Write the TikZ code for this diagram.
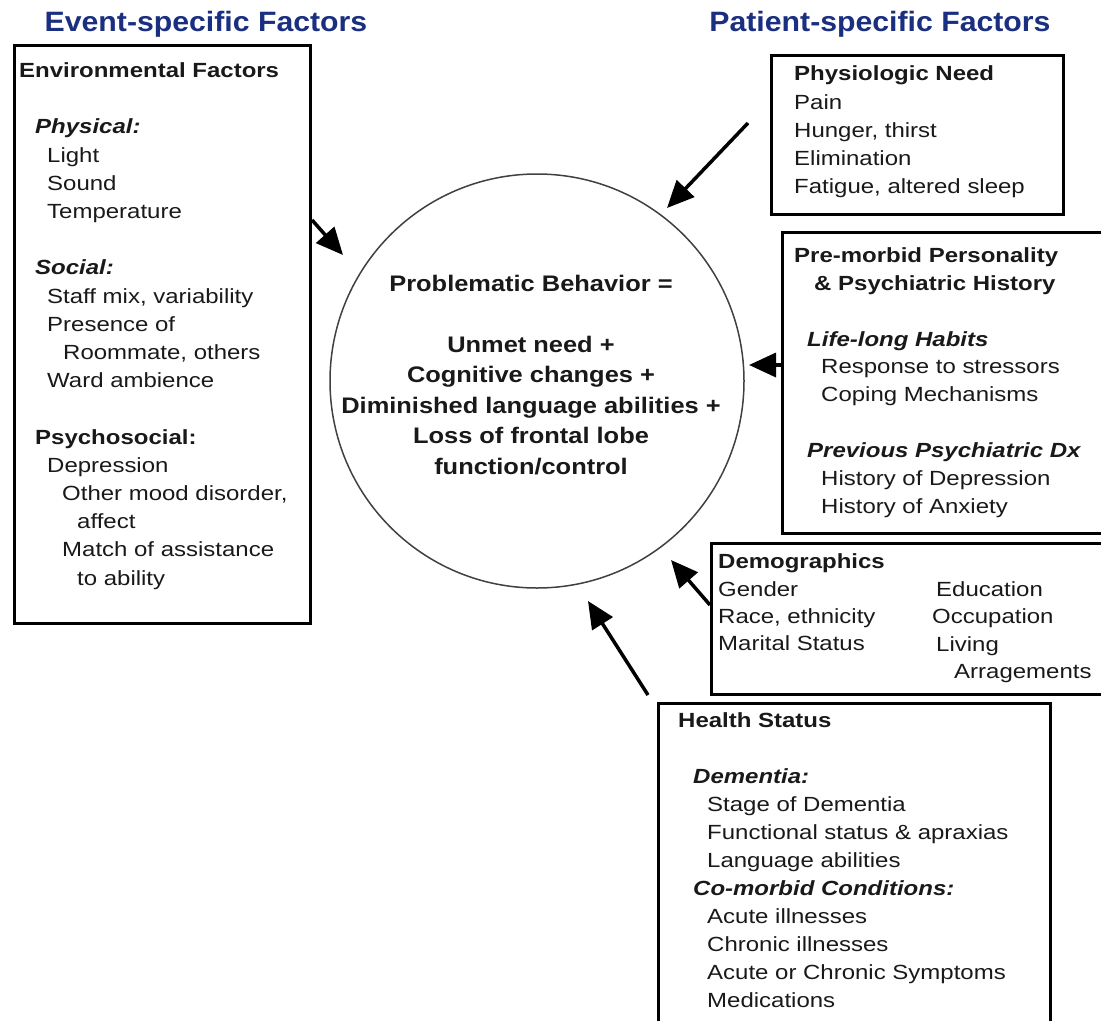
\documentclass[tikz,border=0pt]{standalone}
\usepackage{fontspec}
\setmainfont{Liberation Sans}
\newfontfamily\bodyfont[FakeStretch=1.17]{Liberation Sans}
\newfontfamily\midfont[FakeStretch=1.13]{Liberation Sans}
\newfontfamily\headfont[FakeStretch=1.08]{Liberation Sans}
\usetikzlibrary{arrows.meta}
\definecolor{titleblue}{RGB}{26,47,128}
\definecolor{txtgray}{RGB}{25,25,25}
\tikzset{
  box/.style={draw=black,line width=3bp,inner sep=0,anchor=north west},
  txt/.style={anchor=north west,inner sep=0,align=left,text=txtgray,
    font=\bodyfont\fontsize{20.5bp}{28.2bp}\selectfont},
  title/.style={inner sep=0,text=titleblue,font=\headfont\bfseries\fontsize{28bp}{32bp}\selectfont},
  arr/.style={line width=3.5bp,-{Triangle[length=27bp,width=24bp]}},
}
\newcommand\ind[1]{\hspace*{#1bp}}
\begin{document}
\begin{tikzpicture}[x=1bp,y=-1bp]
\useasboundingbox (0,0) rectangle (1101,1021);
\begin{scope}
\clip (0,0) rectangle (1101,1021);
% titles
\node[title] (ttlE) at (206,24) {Event-specific Factors};
\node[title] (ttlP) at (880,24) {Patient-specific Factors};

% central circle
\node[circle,draw=black!75,line width=1.5bp,minimum size=414bp,inner sep=0] (circ) at (537,381) {};
\node[inner sep=0,align=center,text=txtgray,font=\midfont\bfseries\fontsize{22.5bp}{30.5bp}\selectfont] (ctext) at (531,375)
{Problematic Behavior =\\[30.5bp]Unmet need +\\Cognitive changes +\\Diminished language abilities +\\Loss of frontal lobe\\function/control};

% boxes
\node[box,minimum width=296bp,minimum height=578bp] (env) at (13,44) {};
\node[box,minimum width=292bp,minimum height=159bp] (phys) at (770,54) {};
\node[box,minimum width=330bp,minimum height=301bp] (pre) at (781,231) {};
\node[box,minimum width=400bp,minimum height=151bp] (demo) at (710,542) {};
\node[box,minimum width=392bp,minimum height=360bp] (health) at (657,702) {};

% box texts
\node[txt] (envT) at (19,57.6) {\strut\textbf{Environmental Factors}\\[28.2bp]
\ind{16}\textbf{\itshape Physical:}\\
\ind{28}Light\\
\ind{28}Sound\\
\ind{28}Temperature\\[28.2bp]
\ind{16}\textbf{\itshape Social:}\\
\ind{28}Staff mix, variability\\
\ind{28}Presence of\\
\ind{44}Roommate, others\\
\ind{28}Ward ambience\\[28.2bp]
\ind{16}\textbf{Psychosocial:}\\
\ind{28}Depression\\
\ind{43}Other mood disorder,\\
\ind{58}affect\\
\ind{43}Match of assistance\\
\ind{58}to ability};

\node[txt] (physT) at (794,61) {\strut\textbf{Physiologic Need}\\
Pain\\
Hunger, thirst\\
Elimination\\
Fatigue, altered sleep};

\node[txt,font=\bodyfont\fontsize{20.5bp}{27.9bp}\selectfont] (preT) at (794,242.6) {\strut\textbf{Pre-morbid Personality}\\
\ind{20}\textbf{\& Psychiatric History}\\[27.9bp]
\ind{13}\textbf{\itshape Life-long Habits}\\
\ind{27}Response to stressors\\
\ind{27}Coping Mechanisms\\[27.9bp]
\ind{13}\textbf{\itshape Previous Psychiatric Dx}\\
\ind{27}History of Depression\\
\ind{27}History of Anxiety};

\node[txt,font=\bodyfont\fontsize{20.5bp}{27.3bp}\selectfont] (demoT) at (718,549.6) {\strut\textbf{Demographics}\\
Gender\\
Race, ethnicity\\
Marital Status};
\node[txt,font=\bodyfont\fontsize{20.5bp}{27.3bp}\selectfont] (demoT2) at (932,577.3) {\strut\ind{4}Education\\
Occupation\\
\ind{4}Living\\
\ind{22}Arragements};

\node[txt,font=\bodyfont\fontsize{20.5bp}{28bp}\selectfont] (healthT) at (678,707.6) {\strut\textbf{Health Status}\\[28bp]
\ind{15}\textbf{\itshape Dementia:}\\
\ind{29}Stage of Dementia\\
\ind{29}Functional status \& apraxias\\
\ind{29}Language abilities\\
\ind{15}\textbf{\itshape Co-morbid Conditions:}\\
\ind{29}Acute illnesses\\
\ind{29}Chronic illnesses\\
\ind{29}Acute or Chronic Symptoms\\
\ind{29}Medications};

% arrows
\coordinate (a1s) at (env.north east |- 0,220);
\coordinate (a1e) at (343,255);
\coordinate (a2s) at (748,123);
\coordinate (a2e) at (667,208);
\coordinate (a3s) at (pre.west |- 0,365);
\coordinate (a3e) at (749,365);
\coordinate (a4s) at (demo.west |- 0,605);
\coordinate (a4e) at (671,560);
\coordinate (a5s) at (648,695);
\coordinate (a5e) at (588,601);
\draw[arr] (a1s) -- (a1e);
\draw[arr] (a2s) -- (a2e);
\draw[arr] (a3s) -- (a3e);
\draw[arr] (a4s) -- (a4e);
\draw[arr] (a5s) -- (a5e);
\end{scope}
\end{tikzpicture}
\end{document}
